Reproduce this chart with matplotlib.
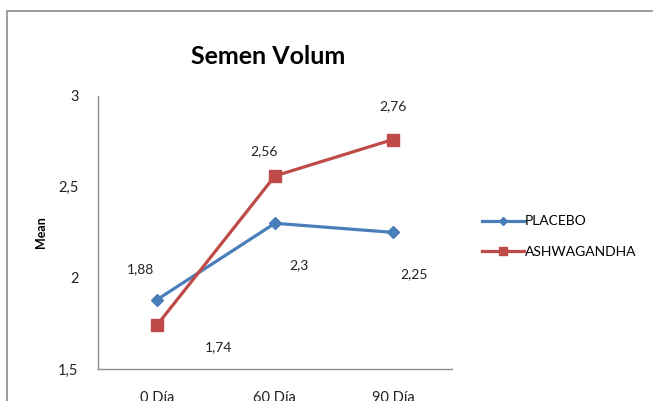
import matplotlib
matplotlib.use("Agg")
import matplotlib.pyplot as plt
from matplotlib.patches import Rectangle

plt.rcParams['font.family'] = ['Lato', 'DejaVu Sans']

categories = ['0 Día', '60 Día', '90 Día']
placebo = [1.88, 2.3, 2.25]
ashwagandha = [1.74, 2.56, 2.76]
placebo_labels = ['1,88', '2,3', '2,25']
ashwagandha_labels = ['1,74', '2,56', '2,76']
y_ticks = [1.5, 2, 2.5, 3]
y_ticklabels = ['1,5', '2', '2,5', '3']

blue = '#4a7ebb'
red = '#be4b48'

fig = plt.figure(figsize=(6.53, 4.01), dpi=100)
ax = fig.add_axes([0.150, 0.080, 0.542, 0.681])

# outer chart border (only top/left visible in the crop)
fig.patches.append(Rectangle((7 / 653, -0.1), 1.0, (401 - 11) / 401 + 0.1,
                             transform=fig.transFigure, fill=False,
                             edgecolor='#8c8c8c', linewidth=1.2))

x = list(range(len(categories)))
ax.plot(x, placebo, color=blue, linewidth=2.3, marker='D', markersize=6,
        label='PLACEBO')
ax.plot(x, ashwagandha, color=red, linewidth=2.3, marker='s', markersize=8,
        label='ASHWAGANDHA')

# data labels
p_off = [(-12, 22), (17, -30), (15, -30)]
a_off = [(44, -16), (-8, 18), (0, 24)]
for i in x:
    ax.annotate(placebo_labels[i], (i, placebo[i]), xytext=p_off[i],
                textcoords='offset points', ha='center', va='center',
                fontsize=10, color='#222222')
    ax.annotate(ashwagandha_labels[i], (i, ashwagandha[i]), xytext=a_off[i],
                textcoords='offset points', ha='center', va='center',
                fontsize=10, color='#222222')

ax.set_xlim(-0.5, 2.5)
ax.set_ylim(1.5, 3)
ax.set_xticks(x)
ax.set_xticklabels(categories)
ax.set_yticks(y_ticks)
ax.set_yticklabels(y_ticklabels)
ax.tick_params(axis='both', length=0, labelsize=10.5, colors='#222222')
ax.tick_params(axis='x', pad=16)
ax.tick_params(axis='y', pad=14)
for side in ['top', 'right']:
    ax.spines[side].set_visible(False)
for side in ['left', 'bottom']:
    ax.spines[side].set_color('#8c8c8c')
    ax.spines[side].set_linewidth(1.0)

ax.set_ylabel('Mean', fontsize=9, fontweight='bold', labelpad=8)
fig.text(268 / 653, 1 - 56 / 401, 'Semen Volum', ha='center', va='center',
         fontsize=18, fontweight='bold')

ax.legend(loc='center left', bbox_to_anchor=(1.05, 0.485), frameon=False,
          fontsize=10, handlelength=3.0, handletextpad=0.1, labelspacing=1.3,
          markerscale=0.75)

fig.savefig('out.png', dpi=100)
